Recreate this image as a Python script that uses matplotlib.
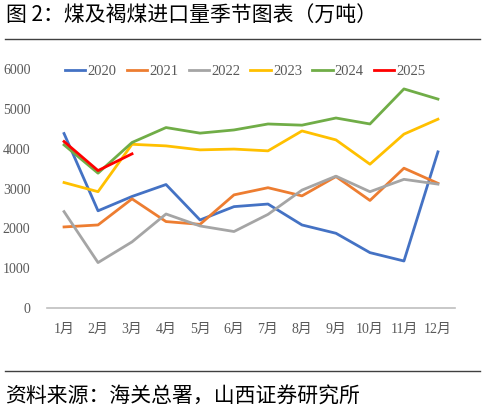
import matplotlib
matplotlib.use('Agg')
import matplotlib.pyplot as plt
from matplotlib.lines import Line2D

plt.rcParams['font.family'] = ['Liberation Serif', 'Noto Sans CJK SC']

# Monthly import volume of coal and lignite (10k tonnes)
months = ['1月', '2月', '3月', '4月', '5月', '6月', '7月', '8月', '9月', '10月', '11月', '12月']
y2020 = [4380, 2440, 2800, 3100, 2210, 2545, 2610, 2085, 1876, 1390, 1180, 3920]
y2021 = [2035, 2085, 2740, 2170, 2100, 2840, 3020, 2815, 3300, 2700, 3510, 3130]
y2022 = [2420, 1140, 1660, 2360, 2060, 1920, 2350, 2960, 3310, 2920, 3230, 3110]
y2023 = [3150, 2920, 4110, 4070, 3970, 3990, 3945, 4445, 4220, 3610, 4365, 4740]
y2024 = [4095, 3385, 4155, 4530, 4390, 4470, 4620, 4590, 4770, 4620, 5500, 5245]
y2025 = [4180, 3450, 3870]

series = [('2020', y2020, '#4472C4'),
          ('2021', y2021, '#ED7D31'),
          ('2022', y2022, '#A5A5A5'),
          ('2023', y2023, '#FFC000'),
          ('2024', y2024, '#70AD47'),
          ('2025', y2025, '#FF0000')]

fig = plt.figure(figsize=(4.85, 4.11), dpi=100)
ax = fig.add_axes([0.097, 0.2506, 0.841, 0.5815])

for name, vals, col in series:
    ax.plot(range(1, len(vals) + 1), vals, color=col, linewidth=2.0, label=name)

ax.set_xlim(0.5, 12.5)
ax.set_ylim(0, 6000)
ax.set_xticks(range(1, 13))
ax.set_xticklabels(months)
ax.set_yticks(range(0, 6001, 1000))

for s in ['top', 'right', 'left']:
    ax.spines[s].set_visible(False)
ax.spines['bottom'].set_color('#BFBFBF')
ax.spines['bottom'].set_linewidth(1.2)
ax.tick_params(axis='both', length=0, labelcolor='#595959', labelsize=10)
ax.tick_params(axis='y', pad=12)
ax.tick_params(axis='x', pad=11)

ax.legend(loc='center', bbox_to_anchor=(0.486, 0.99), ncol=6, frameon=False,
          fontsize=10.5, handlelength=1.4, handletextpad=0.15, columnspacing=0.7,
          labelcolor='#595959')

# title and source
fig.text(0.012, 0.962, '图 2：煤及褐煤进口量季节图表（万吨）', fontsize=15,
         family=['Noto Sans CJK SC', 'DejaVu Sans'], va='center', ha='left')
fig.add_artist(Line2D([0.01, 0.99], [0.905, 0.905], color='#404040', linewidth=1.0))
fig.add_artist(Line2D([0.01, 0.99], [0.097, 0.097], color='#404040', linewidth=1.0))
fig.text(0.01, 0.036, '资料来源：海关总署，山西证券研究所', fontsize=15,
         family=['Noto Sans CJK SC', 'DejaVu Sans'], va='center', ha='left')

fig.savefig('out.png', dpi=100)
